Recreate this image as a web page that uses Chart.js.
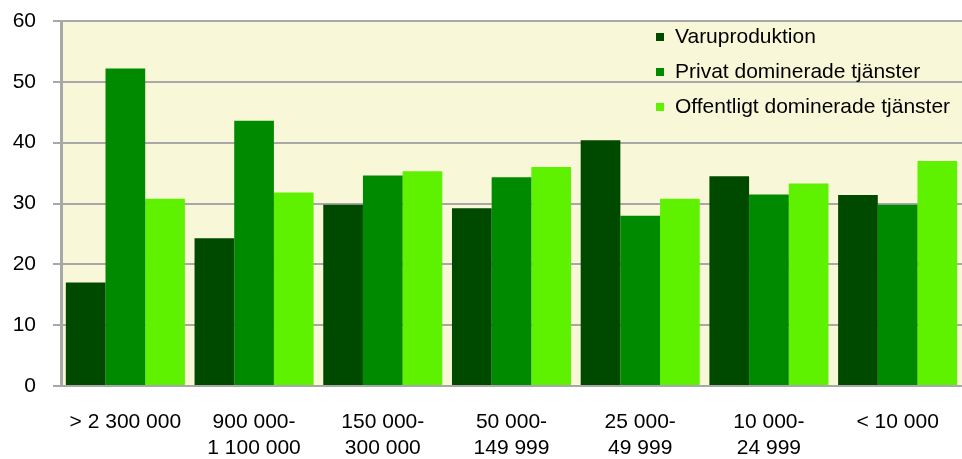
<!DOCTYPE html>
<html>
<head>
<meta charset="utf-8">
<script src="https://cdn.jsdelivr.net/npm/chart.js@4.4.3/dist/chart.umd.min.js"></script>
<style>
  html,body{margin:0;padding:0;background:#fff;}
  #wrap{width:962px;height:459px;position:relative;}
</style>
</head>
<body>
<div id="wrap"><canvas id="c"></canvas></div>
<script>
// kategorier (kommungrupper)
const categories = [
  ['> 2 300 000'],
  ['900 000-', '1 100 000'],
  ['150 000-', '300 000'],
  ['50 000-', '149 999'],
  ['25 000-', '49 999'],
  ['10 000-', '24 999'],
  ['< 10 000']
];
const seriesNames = ['Varuproduktion', 'Privat dominerade tjänster', 'Offentligt dominerade tjänster'];
const varuproduktion = [17.0, 24.3, 29.8, 29.2, 40.4, 34.5, 31.4];
const privatTjanster = [52.2, 43.6, 34.6, 34.3, 28.0, 31.5, 29.8];
const offentligTjanster = [30.8, 31.8, 35.3, 36.0, 30.8, 33.3, 37.0];
const yTicks = [0, 10, 20, 30, 40, 50, 60];
const colors = ['#004a00', '#008a00', '#5ef200'];

const FONT = 'Liberation Sans, Arial, sans-serif';

// bakgrund i ritytan
const plotBg = {
  id: 'plotBg',
  beforeDraw(chart){
    const {ctx, chartArea:a} = chart;
    ctx.save();
    ctx.fillStyle = '#f8f8d8';
    ctx.fillRect(a.left, a.top, a.right - a.left, a.bottom - a.top);
    ctx.restore();
  }
};

// legend inne i diagrammet, uppe till höger
const innerLegend = {
  id: 'innerLegend',
  afterDraw(chart){
    const ctx = chart.ctx;
    ctx.save();
    ctx.font = '21px ' + FONT;
    ctx.textBaseline = 'middle';
    chart.data.datasets.forEach((ds, i) => {
      const y = 37 + i * 35;
      ctx.fillStyle = ds.backgroundColor;
      ctx.fillRect(656, y - 4, 8, 8);
      ctx.fillStyle = '#000';
      ctx.fillText(ds.label, 675, y);
    });
    ctx.restore();
  }
};

const data = {
  labels: categories,
  datasets: [varuproduktion, privatTjanster, offentligTjanster].map((vals, i) => ({
    label: seriesNames[i],
    data: vals,
    backgroundColor: colors[i],
    borderWidth: 0,
    categoryPercentage: 0.925,
    barPercentage: 1.0
  }))
};

new Chart(document.getElementById('c'), {
  type: 'bar',
  data,
  plugins: [plotBg, innerLegend],
  options: {
    responsive: true,
    maintainAspectRatio: false,
    animation: false,
    layout: { padding: { top: 21, right: 0, left: 0, bottom: 0 } },
    plugins: { legend: { display: false }, tooltip: { enabled: false } },
    scales: {
      x: {
        grid: { display: false, drawTicks: false },
        border: { display: true, color: '#a8a8a8', width: 2 },
        ticks: { color: '#000', font: { family: FONT, size: 21, lineHeight: 1.2 }, padding: 24, maxRotation: 0, autoSkip: false },
        afterFit(s){ s.height = 73; s.paddingLeft = 0; s.paddingRight = 0; }
      },
      y: {
        min: 0, max: 60,
        afterBuildTicks(s){ s.ticks = yTicks.map(v => ({value: v})); },
        grid: { color: '#a8a8a8', lineWidth: 2, tickLength: 8, drawTicks: true },
        border: { display: true, color: '#a8a8a8', width: 3 },
        ticks: { color: '#000', font: { family: FONT, size: 21 }, padding: 17 },
        afterFit(s){ s.width = 61; s.paddingTop = 0; s.paddingBottom = 0; }
      }
    }
  }
});
</script>
</body>
</html>
